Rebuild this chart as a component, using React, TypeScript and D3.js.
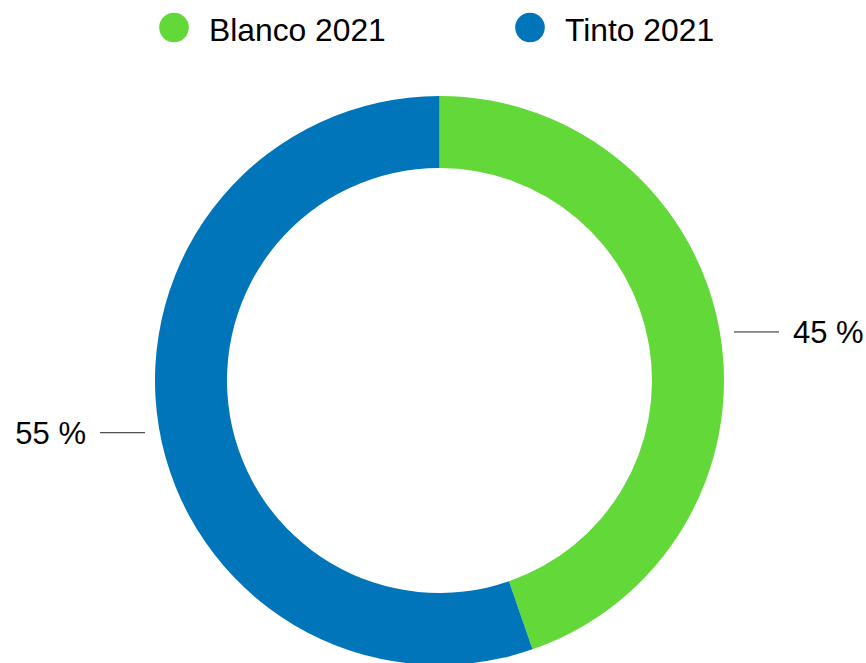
import React from "react";
import * as d3 from "d3";

const categories = ["Blanco 2021", "Tinto 2021"];
const values = [44.7, 55.3];
const labels = ["45 %", "55 %"];
const colors = ["#62D839", "#0075BA"];

const W = 866;
const H = 663;
const cx = 439.5;
const cy = 380.5;
const R = 284.5;
const r = 212.5;
const FONT = "'Liberation Sans', Arial, Helvetica, sans-serif";

export default function App() {
  const pie = d3.pie<number>().sort(null).value((d) => d)(values);
  const arc = d3.arc<d3.PieArcDatum<number>>().innerRadius(r).outerRadius(R);
  const legendX = [174, 530];

  return (
    <svg
      width={W}
      height={H}
      style={{ position: "absolute", left: 0, top: 0, display: "block" }}
    >
      <rect width={W} height={H} fill="#fff" />
      <g>
        {categories.map((c, i) => (
          <g key={c}>
            <circle cx={legendX[i]} cy={27.5} r={14.8} fill={colors[i]} />
            <text
              x={legendX[i] + 35}
              y={40.5}
              fontFamily={FONT}
              fontSize={31.8}
              fill="#000"
            >
              {c}
            </text>
          </g>
        ))}
      </g>
      <g transform={`translate(${cx},${cy})`}>
        {pie.map((p, i) => (
          <path key={i} d={arc(p) || ""} fill={colors[i]} />
        ))}
        {pie.map((p, i) => {
          const mid = (p.startAngle + p.endAngle) / 2;
          const side = Math.sin(mid) >= 0 ? 1 : -1;
          const y = -Math.cos(mid) * 304 + 1.85;
          const x0 = side * (R + 10);
          const x1 = side * (R + 55);
          const tx = side * (R + 69);
          return (
            <g key={"l" + i}>
              <line x1={x0} x2={x1} y1={y} y2={y} stroke="#222" strokeWidth={1} />
              <text
                x={tx}
                y={y + 11.5}
                textAnchor={side > 0 ? "start" : "end"}
                fontFamily={FONT}
                fontSize={31}
                fill="#000"
              >
                {labels[i]}
              </text>
            </g>
          );
        })}
      </g>
    </svg>
  );
}
